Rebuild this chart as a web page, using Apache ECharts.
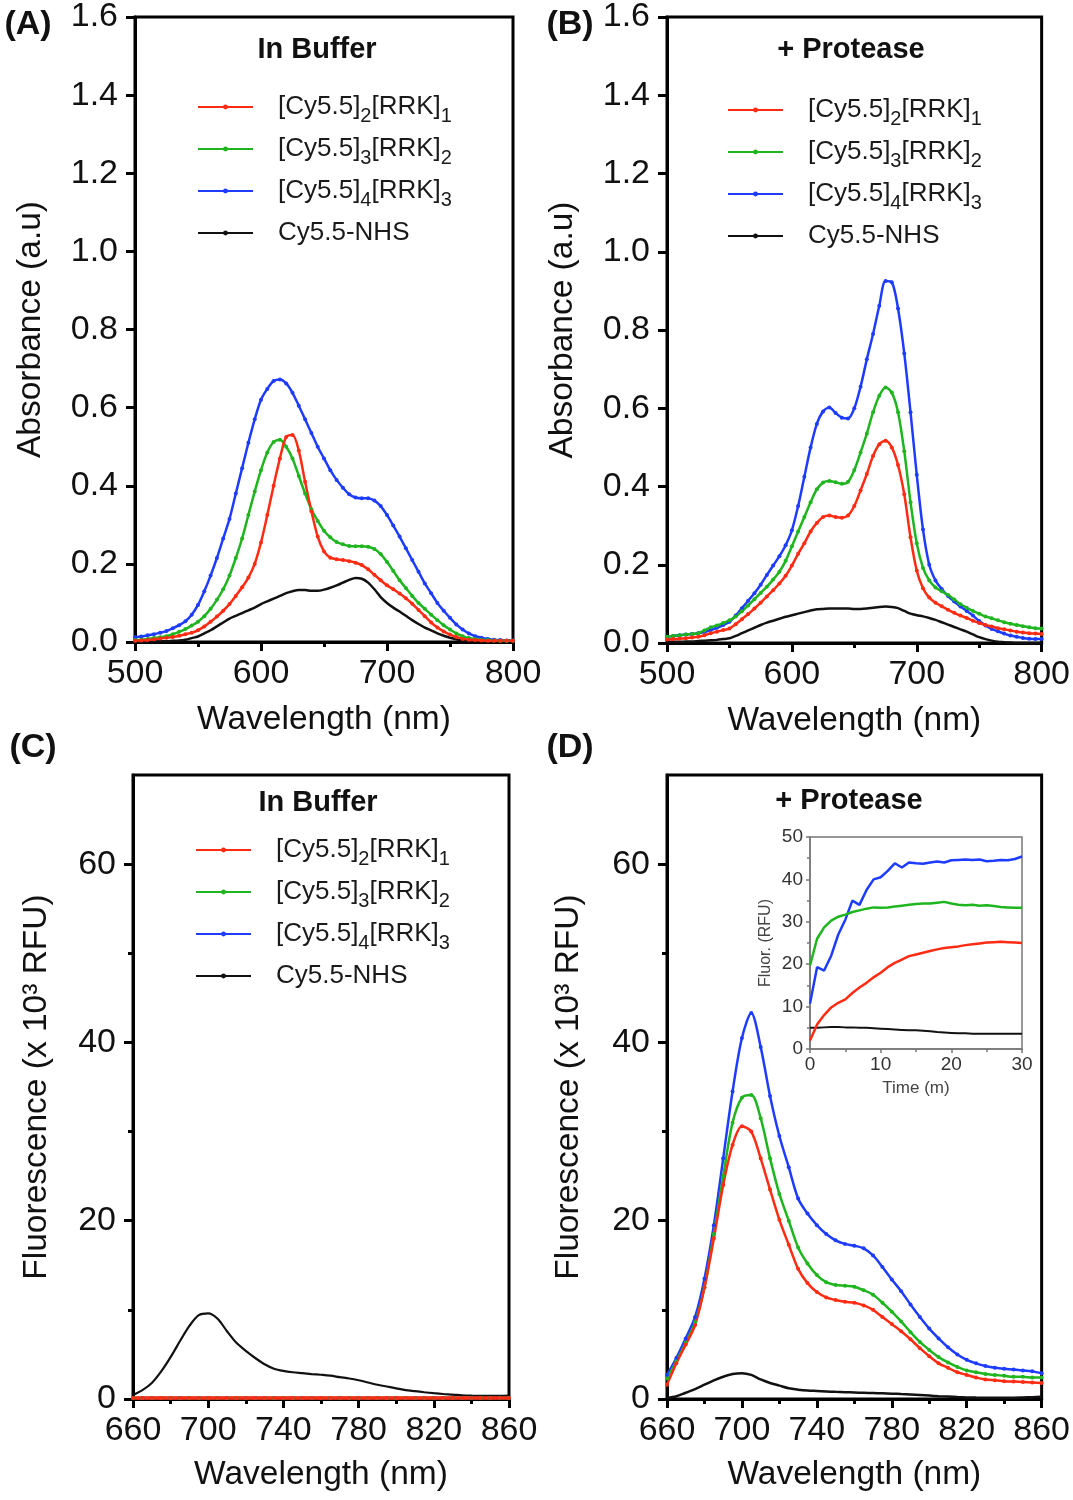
<!DOCTYPE html>
<html>
<head>
<meta charset="utf-8">
<script src="https://cdn.jsdelivr.net/npm/echarts@6/dist/echarts.min.js"></script>
<style>
html,body{margin:0;padding:0;background:#fff;}
#chart{width:1073px;height:1500px;}
</style>
</head>
<body>
<div id="chart"></div>
<script>
// ---------------- DATA ----------------
const seriesNames = ['[Cy5.5]2[RRK]1', '[Cy5.5]3[RRK]2', '[Cy5.5]4[RRK]3', 'Cy5.5-NHS'];
const seriesColors = ['#ff2b12', '#1fb51f', '#1e3cff', '#111111'];

// Absorbance wavelengths (nm)
const absWl = [500,505,510,515,520,525,530,535,540,545,550,555,560,565,570,575,580,585,590,595,
  600,605,610,615,620,625,630,635,640,645,650,655,660,665,670,675,680,685,690,695,
  700,705,710,715,720,725,730,735,740,745,750,755,760,765,770,775,780,785,790,795,800];

// (A) In Buffer absorbance
const absBufRed = [.003,.004,.005,.007,.009,.011,.013,.016,.020,.024,.030,.040,.052,.065,.080,.097,.118,.140,.165,.200,
  .255,.325,.400,.470,.525,.530,.490,.410,.335,.270,.232,.216,.212,.210,.207,.203,.197,.186,.172,.158,
  .145,.135,.124,.112,.098,.082,.066,.050,.037,.027,.019,.013,.008,.006,.005,.004,.003,.003,.003,.003,.003];
const absBufGreen = [.005,.006,.008,.010,.012,.015,.020,.026,.033,.042,.052,.066,.085,.108,.135,.170,.215,.265,.325,.385,
  .440,.485,.512,.518,.500,.470,.425,.380,.340,.310,.285,.268,.256,.250,.246,.245,.245,.244,.238,.225,
  .205,.182,.158,.138,.118,.100,.085,.070,.056,.043,.032,.022,.015,.010,.008,.006,.005,.004,.003,.003,.003];
const absBufBlue = [.012,.014,.017,.020,.024,.028,.035,.043,.053,.070,.095,.130,.170,.215,.265,.315,.380,.445,.510,.570,
  .620,.648,.668,.672,.662,.638,.605,.570,.535,.500,.470,.440,.415,.395,.378,.370,.368,.368,.362,.348,
  .325,.298,.270,.240,.210,.180,.150,.125,.100,.080,.062,.045,.032,.022,.015,.011,.008,.006,.005,.004,.004];
const absBufBlack = [0,0,.001,.001,.002,.002,.003,.004,.006,.010,.014,.022,.030,.040,.050,.060,.067,.074,.081,.088,
  .097,.104,.111,.118,.125,.130,.133,.133,.131,.131,.134,.139,.145,.152,.159,.164,.162,.152,.135,.115,
  .100,.088,.078,.067,.056,.046,.037,.030,.022,.016,.011,.007,.004,.002,.001,.001,0,0,0,0,0];

// (B) + Protease absorbance
const absProRed = [.009,.010,.011,.012,.014,.016,.020,.025,.029,.033,.037,.048,.061,.074,.088,.103,.119,.135,.152,.172,
  .198,.228,.255,.285,.307,.322,.326,.322,.320,.326,.350,.390,.432,.478,.508,.517,.500,.455,.380,.270,
  .185,.140,.116,.103,.094,.085,.077,.070,.064,.057,.051,.046,.042,.038,.035,.032,.029,.027,.025,.024,.023];
const absProGreen = [.016,.018,.020,.022,.023,.025,.032,.040,.045,.051,.058,.068,.081,.096,.112,.128,.144,.162,.182,.210,
  .247,.285,.322,.360,.393,.410,.414,.411,.407,.412,.442,.487,.535,.590,.632,.653,.640,.590,.490,.360,
  .255,.192,.160,.142,.132,.123,.111,.099,.090,.082,.075,.068,.063,.058,.053,.049,.046,.043,.040,.038,.037];
const absProBlue = [.016,.018,.020,.022,.023,.025,.028,.033,.039,.046,.054,.070,.089,.108,.127,.149,.174,.198,.222,.250,
  .288,.350,.425,.500,.560,.592,.602,.588,.576,.574,.600,.655,.725,.790,.862,.925,.922,.855,.740,.590,
  .430,.290,.200,.160,.138,.120,.106,.093,.082,.070,.056,.045,.036,.030,.024,.019,.016,.013,.011,.010,.010];
const absProBlack = [.003,.003,.003,.004,.004,.005,.006,.007,.008,.010,.012,.018,.025,.032,.039,.046,.052,.057,.062,.067,
  .071,.075,.079,.083,.086,.087,.088,.088,.088,.088,.087,.087,.088,.090,.092,.093,.092,.089,.082,.075,
  .071,.068,.064,.059,.053,.047,.041,.035,.029,.022,.015,.010,.006,.003,.002,.001,0,0,0,0,0];

// Fluorescence wavelengths (nm)
const flWl = [660,665,670,675,680,685,690,695,700,705,710,715,720,725,730,735,740,745,750,755,
  760,765,770,775,780,785,790,795,800,805,810,815,820,825,830,835,840,845,850,855,860];

// (C) In Buffer fluorescence (x10^3 RFU)
const flBufRed = [.1,.1,.1,.1,.1,.1,.1,.1,.1,.1,.1,.1,.1,.1,.1,.1,.1,.1,.1,.1,
  .1,.1,.1,.1,.1,.1,.1,.1,.1,.1,.1,.1,.1,.1,.1,.1,.1,.1,.1,.1,.1];
const flBufGreen = [.1,.1,.1,.1,.1,.1,.1,.1,.1,.1,.1,.1,.1,.1,.1,.1,.1,.1,.1,.1,
  .1,.1,.1,.1,.1,.1,.1,.1,.1,.1,.1,.1,.1,.1,.1,.1,.1,.1,.1,.1,.1];
const flBufBlue = [.1,.1,.1,.1,.1,.1,.1,.1,.1,.1,.1,.1,.1,.1,.1,.1,.1,.1,.1,.1,
  .1,.1,.1,.1,.1,.1,.1,.1,.1,.1,.1,.1,.1,.1,.1,.1,.1,.1,.1,.1,.1];
const flBufBlack = [.45,1.0,1.8,3.1,4.7,6.5,8.2,9.4,9.6,9.0,7.6,6.3,5.4,4.6,3.9,3.4,3.15,3.0,2.9,2.8,
  2.72,2.62,2.45,2.3,2.1,1.85,1.6,1.4,1.2,1.0,.88,.76,.65,.56,.5,.42,.37,.34,.34,.35,.37];

// (D) + Protease fluorescence (x10^3 RFU)
const flProRed = [1.6,4.0,6.1,8.3,12.5,18,24,28.5,30.6,30.0,27,23.5,20.1,17.3,14.6,13,12,11.4,11.1,10.9,
  10.8,10.5,10.0,9.2,8.4,7.6,6.7,5.7,4.8,4.0,3.5,3.0,2.7,2.4,2.2,2.1,2.0,1.95,1.9,1.85,1.8];
const flProGreen = [2.3,4.2,6.3,8.6,12.5,18.5,25,31,33.8,34.1,31.5,27,23,20,17,15.2,13.9,13.1,12.8,12.7,
  12.6,12.2,11.7,10.8,9.8,8.7,7.5,6.4,5.5,4.7,4.1,3.6,3.2,3.0,2.8,2.7,2.6,2.5,2.5,2.4,2.4];
const flProBlue = [2.7,4.6,6.8,9.2,13.5,19.5,27,34.5,40.5,43.3,39.5,34,29.5,26,22.5,20.8,19.5,18.5,17.8,17.4,
  17.2,16.9,16.1,14.8,13.4,12.1,10.6,9.2,7.9,6.8,5.8,5.0,4.4,4.0,3.7,3.5,3.4,3.3,3.2,3.1,2.9];
const flProBlack = [.1,.3,.7,1.1,1.6,2.1,2.5,2.8,2.9,2.7,2.2,1.8,1.5,1.2,1.05,.95,.9,.85,.8,.76,
  .73,.7,.67,.64,.6,.55,.5,.44,.38,.32,.27,.22,.18,.16,.15,.15,.15,.15,.17,.2,.25];

// Inset: kinetics (Fluor. RFU vs time in minutes)
const timeMin = [0,1,2,3,4,5,6,7,8,9,10,11,12,13,14,15,16,17,18,19,20,21,22,23,24,25,26,27,28,29,30];
const kinRed = [2.0,5.8,8.0,9.8,10.9,11.7,13.2,14.5,15.6,16.9,18.0,19.3,20.3,21.1,21.9,22.3,22.7,23.1,23.5,23.8,
  24.0,24.2,24.5,24.7,24.9,25.1,25.2,25.3,25.2,25.1,25.0];
const kinGreen = [19.7,26.0,28.7,30.3,31.2,31.7,32.3,32.7,33.1,33.4,33.3,33.4,33.6,33.8,34.0,34.2,34.3,34.3,34.5,34.7,
  34.3,34.0,33.9,34.0,33.8,33.9,33.7,33.5,33.4,33.3,33.3];
const kinBlue = [10.7,19.3,18.5,22.0,27.0,30.5,35.0,34.0,37.5,40.0,40.5,42.0,43.8,42.8,44.0,43.8,43.7,44.0,44.2,44.0,
  44.5,44.6,44.7,44.6,44.7,44.3,44.4,44.6,44.5,44.8,45.4];
const kinBlack = [5.0,5.0,5.1,5.2,5.2,5.1,5.1,5.0,5.0,4.9,4.8,4.7,4.6,4.5,4.4,4.4,4.3,4.2,4.0,3.9,
  3.8,3.7,3.7,3.6,3.6,3.6,3.6,3.6,3.6,3.6,3.6];

// Tick labels
const absXTicks = [500, 600, 700, 800];
const flXTicks = [660, 700, 740, 780, 820, 860];
const flXMinor = [680, 720, 760, 800, 840];
const flYTicks = [0, 20, 40, 60];
const flYMinor = [10, 30, 50];

// ---------------- CHART ----------------
const FONT = '"Liberation Sans", Arial, Helvetica, sans-serif';
const TICK_FS = 34;
const NAME_FS = 33.5;
const chart = echarts.init(document.getElementById('chart'), null, {renderer: 'canvas'});

const legendRich = {
  '[Cy5.5]2[RRK]1': '{g| }[Cy5.5]{s|2}[RRK]{s|1}',
  '[Cy5.5]3[RRK]2': '{g| }[Cy5.5]{s|3}[RRK]{s|2}',
  '[Cy5.5]4[RRK]3': '{g| }[Cy5.5]{s|4}[RRK]{s|3}',
  'Cy5.5-NHS': '{g| }Cy5.5-NHS'
};

function pairs(xs, ys) { return xs.map((x, i) => [x, ys[i]]); }

function line(nameIdx, xs, ys, xi, yi, opt) {
  opt = opt || {};
  return Object.assign({
    type: 'line',
    name: seriesNames[nameIdx],
    xAxisIndex: xi, yAxisIndex: yi,
    data: pairs(xs, ys),
    smooth: 0.3,
    symbol: 'circle',
    symbolSize: 4,
    showSymbol: nameIdx !== 3,
    color: seriesColors[nameIdx],
    lineStyle: {width: 2.5, color: seriesColors[nameIdx]},
    itemStyle: {color: seriesColors[nameIdx]},
    emphasis: {disabled: true},
    animation: false
  }, opt);
}

const blackAxis = {show: true, lineStyle: {color: '#000', width: 3}};
const blackTick = {show: true, inside: false, length: 9, lineStyle: {color: '#000', width: 3}};

function mainX(grid, min, max, interval, name, extra) {
  return Object.assign({
    type: 'value', gridIndex: grid, position: 'bottom', min: min, max: max, interval: interval,
    axisLine: blackAxis, axisTick: blackTick, splitLine: {show: false},
    axisLabel: {fontSize: TICK_FS, color: '#111', fontFamily: FONT, margin: 15},
    name: name, nameLocation: 'middle', nameGap: 60,
    nameTextStyle: {fontSize: NAME_FS, color: '#111', fontFamily: FONT}
  }, extra || {});
}
function mainY(grid, min, max, interval, name, gap, extra) {
  return Object.assign({
    type: 'value', gridIndex: grid, position: 'left', min: min, max: max, interval: interval,
    axisLine: blackAxis, axisTick: blackTick, splitLine: {show: false},
    axisLabel: {fontSize: TICK_FS, color: '#111', fontFamily: FONT, margin: 17},
    name: name, nameLocation: 'middle', nameGap: gap,
    nameTextStyle: {fontSize: NAME_FS, color: '#111', fontFamily: FONT}
  }, extra || {});
}
function minorAxis(grid, pos, min, max, interval, ticks) {
  return {
    type: 'value', gridIndex: grid, position: pos, offset: 0, min: min, max: max, interval: interval,
    axisLine: {show: false}, splitLine: {show: false},
    axisLabel: {show: false},
    axisTick: {show: true, inside: false, length: 5, customValues: ticks, lineStyle: {color: '#000', width: 3}}
  };
}

const absXOpts = {
  axisLabel: {fontSize: TICK_FS, color: '#111', fontFamily: FONT, margin: 15, customValues: absXTicks},
  minorTick: {show: true, splitNumber: 2, length: 5, lineStyle: {color: '#000', width: 3}}
};
const absYOpts = {
  axisLabel: {fontSize: TICK_FS, color: '#111', fontFamily: FONT, margin: 17, formatter: v => v.toFixed(1)}
};
const flXOpts = {
  axisLabel: {fontSize: TICK_FS, color: '#111', fontFamily: FONT, margin: 15, customValues: flXTicks},
  axisTick: Object.assign({}, blackTick, {customValues: flXTicks})
};
const flYOpts = {
  axisLabel: {fontSize: TICK_FS, color: '#111', fontFamily: FONT, margin: 17, customValues: flYTicks},
  axisTick: Object.assign({}, blackTick, {customValues: flYTicks})
};

function legendAt(left, top) {
  return {
    orient: 'vertical', left: left, top: top,
    itemWidth: 55, itemHeight: 6, itemGap: 8,
    selectedMode: false,
    data: seriesNames.slice(),
    formatter: n => legendRich[n],
    textStyle: {
      fontSize: 26, color: '#1a1a1a', fontFamily: FONT, lineHeight: 30,
      rich: {
        g: {width: 20, fontSize: 26, lineHeight: 30},
        s: {fontSize: 20, height: 12, lineHeight: 12, verticalAlign: 'bottom', fontFamily: FONT, color: '#1a1a1a'}
      }
    }
  };
}

function txt(x, y, text, size, bold, color) {
  return {
    type: 'text', x: x, y: y, silent: true,
    style: {text: text, fontSize: size, fontWeight: bold ? 'bold' : 'normal', fontFamily: FONT,
      fill: color || '#111', align: 'center', verticalAlign: 'middle'}
  };
}

const insetAxisLine = {show: true, lineStyle: {color: '#777', width: 1.5}};
const insetTick = {show: true, inside: false, length: 4, lineStyle: {color: '#777', width: 1.5}};
const insetMinor = {show: true, splitNumber: 2, length: 3, lineStyle: {color: '#777', width: 1.5}};

const option = {
  backgroundColor: '#fff',
  animation: false,
  grid: [
    {left: 135, top: 16, width: 378, height: 626, show: true, borderColor: '#000', borderWidth: 3, backgroundColor: 'transparent'},
    {left: 667, top: 16, width: 376, height: 627, show: true, borderColor: '#000', borderWidth: 3, backgroundColor: 'transparent'},
    {left: 133, top: 775, width: 376, height: 624, show: true, borderColor: '#000', borderWidth: 3, backgroundColor: 'transparent'},
    {left: 667, top: 775, width: 375, height: 624, show: true, borderColor: '#000', borderWidth: 3, backgroundColor: 'transparent'},
    {left: 810, top: 837, width: 212, height: 212, show: true, borderColor: '#777', borderWidth: 1.5, backgroundColor: '#fff', z: 5}
  ],
  xAxis: [
    mainX(0, 500, 800, 100, 'Wavelength (nm)', Object.assign({nameGap: 61}, absXOpts)),
    mainX(1, 500, 800, 100, 'Wavelength (nm)', Object.assign({nameGap: 61}, absXOpts)),
    mainX(2, 660, 860, 20, 'Wavelength (nm)', Object.assign({nameGap: 59}, flXOpts)),
    mainX(3, 660, 860, 20, 'Wavelength (nm)', Object.assign({nameGap: 59}, flXOpts)),
    minorAxis(2, 'bottom', 660, 860, 20, flXMinor),
    minorAxis(3, 'bottom', 660, 860, 20, flXMinor),
    {
      type: 'value', gridIndex: 4, position: 'bottom', min: 0, max: 30, interval: 10, z: 6,
      axisLine: insetAxisLine, axisTick: insetTick, minorTick: insetMinor, splitLine: {show: false},
      axisLabel: {fontSize: 19, color: '#333', fontFamily: FONT, margin: 6},
      name: 'Time (m)', nameLocation: 'middle', nameGap: 31,
      nameTextStyle: {fontSize: 17, color: '#444', fontFamily: FONT}
    }
  ],
  yAxis: [
    mainY(0, 0, 1.6, 0.2, 'Absorbance (a.u)', 87, absYOpts),
    mainY(1, 0, 1.6, 0.2, 'Absorbance (a.u)', 87, absYOpts),
    mainY(2, 0, 70, 10, 'Fluorescence (x 10³ RFU)', 79, flYOpts),
    mainY(3, 0, 70, 10, 'Fluorescence (x 10³ RFU)', 81, flYOpts),
    minorAxis(2, 'left', 0, 70, 10, flYMinor),
    minorAxis(3, 'left', 0, 70, 10, flYMinor),
    {
      type: 'value', gridIndex: 4, position: 'left', min: 0, max: 50, interval: 10, z: 6,
      axisLine: insetAxisLine, axisTick: insetTick, minorTick: insetMinor, splitLine: {show: false},
      axisLabel: {fontSize: 19, color: '#333', fontFamily: FONT, margin: 7},
      name: 'Fluor. (RFU)', nameLocation: 'middle', nameGap: 36,
      nameTextStyle: {fontSize: 16, color: '#444', fontFamily: FONT}
    }
  ],
  legend: [legendAt(192, 87), legendAt(722, 90), legendAt(190, 830)],
  series: [
    // (A)
    line(3, absWl, absBufBlack, 0, 0),
    line(2, absWl, absBufBlue, 0, 0),
    line(1, absWl, absBufGreen, 0, 0),
    line(0, absWl, absBufRed, 0, 0),
    // (B)
    line(3, absWl, absProBlack, 1, 1),
    line(2, absWl, absProBlue, 1, 1),
    line(1, absWl, absProGreen, 1, 1),
    line(0, absWl, absProRed, 1, 1),
    // (C)
    line(3, flWl, flBufBlack, 2, 2, {lineStyle: {width: 2.2, color: '#111'}}),
    line(2, flWl, flBufBlue, 2, 2),
    line(1, flWl, flBufGreen, 2, 2),
    line(0, flWl, flBufRed, 2, 2, {lineStyle: {width: 3.5, color: seriesColors[0]}}),
    // (D)
    line(3, flWl, flProBlack, 3, 3),
    line(2, flWl, flProBlue, 3, 3),
    line(1, flWl, flProGreen, 3, 3),
    line(0, flWl, flProRed, 3, 3),
    // Inset
    line(3, timeMin, kinBlack, 6, 6, {showSymbol: false, smooth: false, lineStyle: {width: 2, color: seriesColors[3]}, z: 7}),
    line(2, timeMin, kinBlue, 6, 6, {showSymbol: false, smooth: false, lineStyle: {width: 2.5, color: seriesColors[2]}, z: 7}),
    line(1, timeMin, kinGreen, 6, 6, {showSymbol: false, smooth: false, lineStyle: {width: 2.5, color: seriesColors[1]}, z: 7}),
    line(0, timeMin, kinRed, 6, 6, {showSymbol: false, smooth: false, lineStyle: {width: 2.5, color: seriesColors[0]}, z: 7})
  ],
  graphic: [
    txt(28, 25, '(A)', 34, true),
    txt(570, 25, '(B)', 34, true),
    txt(33, 748, '(C)', 34, true),
    txt(570, 748, '(D)', 34, true),
    txt(317, 50, 'In Buffer', 29, true),
    txt(851, 50, '+ Protease', 29, true),
    txt(318, 803, 'In Buffer', 29, true),
    txt(849, 801, '+ Protease', 29, true)
  ]
};
chart.setOption(option);
</script>
</body>
</html>
